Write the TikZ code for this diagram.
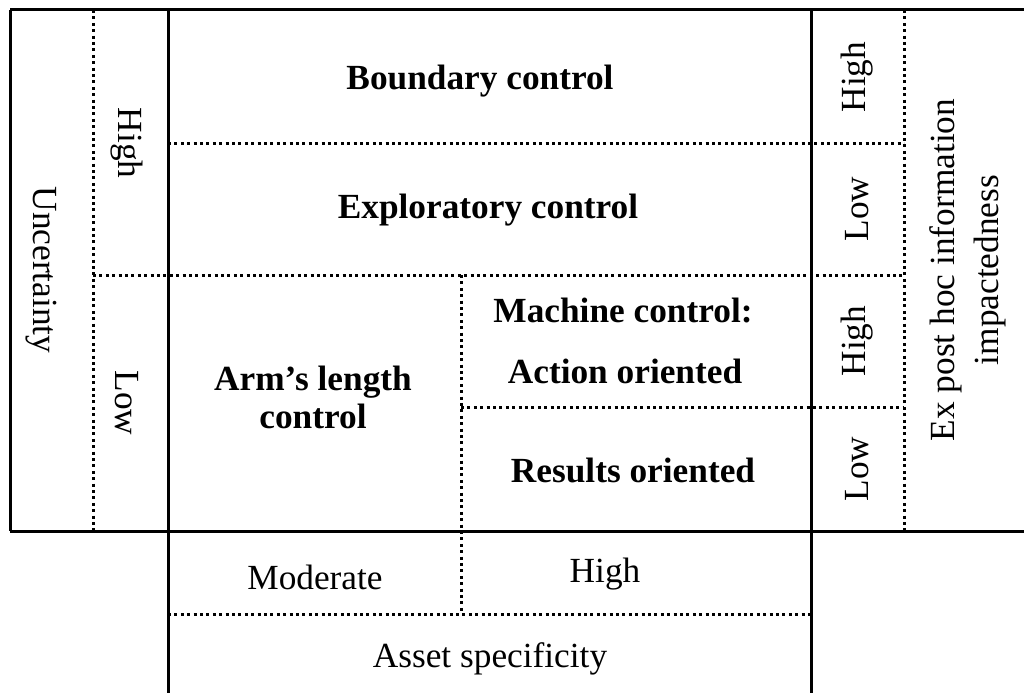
\documentclass[tikz,border=0pt]{standalone}
\usepackage{fontspec}
\setmainfont{Liberation Serif}
\begin{document}
\begin{tikzpicture}[x=1pt,y=-1pt,
  solidline/.style={line width=3pt},
  dotline/.style={line width=3pt, dash pattern=on 3pt off 3.4pt},
  lbl/.style={inner sep=0pt, font=\fontsize{35.3}{40}\selectfont, align=center},
  blbl/.style={lbl, font=\fontsize{35.3}{40}\selectfont\bfseries}]
\useasboundingbox (0,0) rectangle (1024,693);
% solid frame
\draw[solidline] (10,10) -- (1024,10);
\draw[solidline] (10,531) -- (1024,531);
\draw[solidline] (10,10) -- (10,531);
\draw[solidline] (168,10) -- (168,693);
\draw[solidline] (811,10) -- (811,693);
% dotted lines
\draw[dotline] (93,10) -- (93,531);
\draw[dotline] (904,10) -- (904,531);
\draw[dotline] (168,143) -- (904,143);
\draw[dotline] (93,275) -- (904,275);
\draw[dotline] (461,275) -- (461,614);
\draw[dotline] (461,407) -- (904,407);
\draw[dotline] (168,614) -- (811,614);
% labels
\node[lbl, rotate=-90] (unc) at (41,270) {Uncertainty};
\node[lbl, rotate=-90] (uh) at (127,143) {High};
\node[lbl, rotate=-90] (ul) at (127,403) {Low};
\node[lbl, rotate=90] (ih1) at (857,77) {High};
\node[lbl, rotate=90] (il1) at (857,209) {Low};
\node[lbl, rotate=90] (ih2) at (857,341) {High};
\node[lbl, rotate=90] (il2) at (857,469) {Low};
\node[lbl, rotate=90, font=\fontsize{35.3}{44}\selectfont] (epi) at (968,270) {Ex post hoc information\\impactedness};
\node[blbl] (bc) at (480,81) {Boundary control};
\node[blbl] (ec) at (488,210) {Exploratory control};
\node[blbl, font=\fontsize{35.3}{38}\selectfont\bfseries] (alc) at (313,397) {Arm’s length\\control};
\node[blbl] (mc) at (623,310) {Machine control:};
\node[blbl] (ao) at (625,371) {Action oriented};
\node[blbl] (ro) at (633,470) {Results oriented};
\node[lbl] (mod) at (315,577) {Moderate};
\node[lbl] (hi) at (605,574) {High};
\node[lbl] (as) at (490,659) {Asset specificity};
\end{tikzpicture}
\end{document}
